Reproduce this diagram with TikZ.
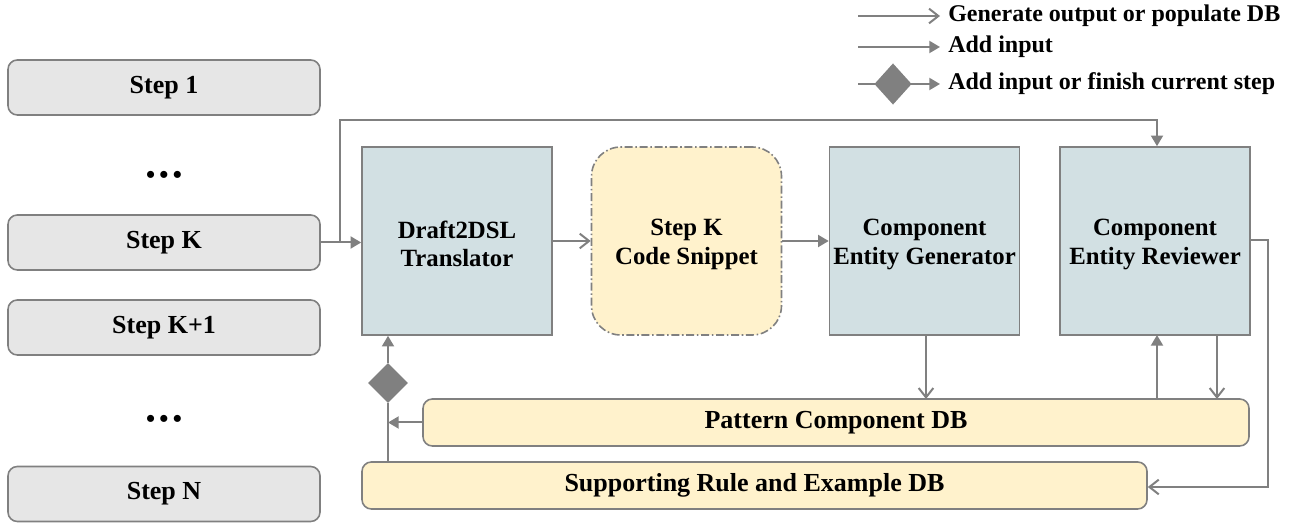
\documentclass[tikz,border=0pt]{standalone}
\usepackage{fontspec}
\setmainfont{Liberation Serif}
\usetikzlibrary{arrows.meta,shapes.geometric}
\definecolor{lnc}{HTML}{808080}
\definecolor{stepfill}{HTML}{E6E6E6}
\definecolor{agentfill}{HTML}{D2E0E3}
\definecolor{dbfill}{HTML}{FFF2CC}
\newcommand{\toppad}{\rule{0pt}{0.93em}}
\tikzset{
  x=0.75pt, y=-0.75pt,
  every node/.style={font=\bfseries\fontsize{18}{21}\selectfont, align=center},
  bigtext/.style={font=\bfseries\fontsize{19.5}{22}\selectfont},
  stepbox/.style={draw=lnc, line width=1.2pt, fill=stepfill, rounded corners=7pt,
    minimum width=234pt, minimum height=41.25pt, inner sep=0pt, bigtext},
  agent/.style={draw=lnc, line width=1.2pt, fill=agentfill,
    minimum width=142.5pt, minimum height=141pt, inner sep=0pt,
    font=\bfseries\fontsize{18.6}{21.5}\selectfont},
  snippet/.style={agent, fill=dbfill, dash pattern=on 6pt off 2pt on 1.2pt off 2pt,
    rounded corners=22pt},
  dbbox/.style={draw=lnc, line width=1.2pt, fill=dbfill, rounded corners=7pt,
    minimum height=35.25pt, inner sep=0pt, bigtext},
  link/.style={draw=lnc, line width=1.5pt},
  outarr/.style={link, -{Straight Barb[length=7pt, width=11pt, line width=1.5pt]}},
  inarr/.style={link, -{Triangle[length=8pt, width=9pt]}},
  gate/.style={diamond, fill=lnc, draw=none, minimum width=30pt, minimum height=30pt, inner sep=0pt},
}
\begin{document}
\begin{tikzpicture}
\useasboundingbox (0,0) rectangle (1293,523);

% step list
\node[stepbox] (s1) at (164,87.5) {\strut Step 1};
\node[bigtext] (dots1) at (164,177) {\textbullet\,\textbullet\,\textbullet};
\node[stepbox] (sk) at (164,242.5) {\strut Step K};
\node[stepbox] (sk1) at (164,327.5) {\strut Step K+1};
\node[bigtext] (dots2) at (164,421) {\textbullet\,\textbullet\,\textbullet};
\node[stepbox] (sn) at (164,494) {\strut Step N};

% agents and the snippet
\node[agent] (dr) at (457,241) {\toppad Draft2DSL\\Translator};
\node[snippet] (cs) at (686.5,241) {\toppad Step K\\Code Snippet};
\node[agent] (gen) at (924.5,241) {\toppad Component\\Entity Generator};
\node[agent] (rev) at (1155,241) {\toppad Component\\Entity Reviewer};

% databases
\node[dbbox, minimum width=619.5pt] (pdb) at (836,422.5) {\strut Pattern Component DB};
\node[dbbox, minimum width=588.75pt] (sdb) at (754.5,485.5) {\strut Supporting Rule and Example DB};

% decision gate
\node[gate] (g) at (388,383) {};

% helper points
\coordinate (fork) at (340,242.5);
\coordinate (topl) at (340,120);
\coordinate (topr) at (1157,120);
\coordinate (join) at (388,422.5);
\coordinate (rr1) at (1268,240);
\coordinate (rr2) at (1268,487);

% main flow
\draw[inarr] (sk.east) -- (sk.east -| dr.west);
\draw[inarr] (fork) -- (topl) -- (topr) -- (topr |- rev.north);
\draw[outarr] (dr.east) -- (cs.west);
\draw[inarr] (cs.east) -- (gen.west);
\draw[outarr] (926,335) -- (926,399);
\draw[inarr] (1157,399) -- (1157,335);
\draw[outarr] (1217,335) -- (1217,399);
\draw[outarr] (rev.east |- rr1) -- (rr1) -- (rr2) -- (sdb.east |- rr2);
\draw[inarr] (pdb.west) -- (join);
\draw[link] (sdb.north -| g) -- (g.south);
\draw[inarr] (g.north) -- (g.north |- dr.south);

% legend
\coordinate (la1) at (858,16);
\coordinate (lb1) at (940,16);
\coordinate (la2) at (858,47);
\coordinate (lb2) at (940,47);
\coordinate (la3) at (858,84);
\coordinate (lb3) at (940,84);
\draw[outarr] (la1) -- (lb1);
\draw[inarr] (la2) -- (lb2);
\draw[inarr] (la3) -- (lb3);
\node[gate, minimum width=28pt, minimum height=31pt] (lg) at (893,84) {};
\node[anchor=west, inner sep=0pt] (lt1) at (948,16) {Generate output or populate DB};
\node[anchor=west, inner sep=0pt] (lt2) at (948,47) {Add input};
\node[anchor=west, inner sep=0pt] (lt3) at (948,84) {Add input or finish current step};
\end{tikzpicture}
\end{document}
